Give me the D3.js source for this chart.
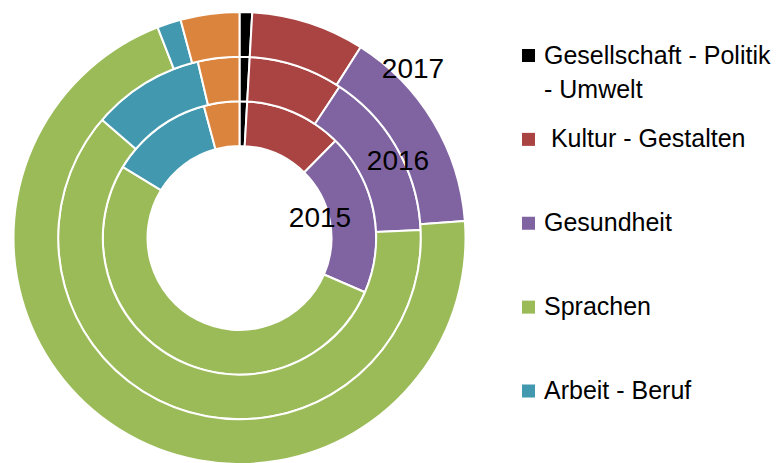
<!DOCTYPE html>
<html>
<head>
<meta charset="utf-8">
<script src="https://cdn.jsdelivr.net/npm/d3@7"></script>
<style>
  body { margin: 0; background: #fff; }
  text { font-family: "Liberation Sans", Arial, sans-serif; fill: #000; }
</style>
</head>
<body>
<svg id="chart"></svg>
<script>
/*
    DATA
    share of courses per category (percent), one array per year / ring
*/
var years = ["2015", "2016", "2017"];
var categories = ["Gesellschaft - Politik - Umwelt", "Kultur - Gestalten", "Gesundheit",
                  "Sprachen", "Arbeit - Beruf", "Sonstiges"];
var colors = ["#000000", "#A94442", "#8064A2", "#9BBB59", "#4198AF", "#DB843D"];

var values2015 = [0.9, 11.5, 19.1, 52.2, 12.1, 4.2];
var values2016 = [0.9, 8.4, 15.0, 62.0, 10.0, 3.7];
var values2017 = [0.9, 8.1, 14.8, 70.3, 1.7, 4.2];

// legend lines (only the first five categories show up in the legend)
var legendLines = [["Gesellschaft - Politik", "- Umwelt"], [" Kultur - Gestalten"], ["Gesundheit"],
                   ["Sprachen"], ["Arbeit - Beruf"]];

/*
    LAYOUT
*/
var width = 780, height = 463;
var cx = 239.5, cy = 238;
var holeR = 92, outerR = 226;

var svg = d3.select("#chart")
    .attr("width", width)
    .attr("height", height);

var g = svg.append("g")
    .attr("transform", "translate(" + cx + "," + cy + ")");

var rings = [values2015, values2016, values2017];

// ring index -> radius band
var radius = d3.scaleLinear()
    .domain([0, rings.length])
    .range([holeR, outerR]);

var pie = d3.pie().sort(null).value(function(d) { return d; });

rings.forEach(function(vals, i) {
  var arc = d3.arc()
      .innerRadius(radius(i))
      .outerRadius(radius(i + 1));

  g.append("g")
      .attr("class", "ring ring-" + years[i])
    .selectAll("path")
      .data(pie(vals))
      .enter().append("path")
      .attr("d", arc)
      .attr("fill", function(d, j) { return colors[j]; })
      .attr("stroke", "#fff")
      .attr("stroke-width", 2)
      .attr("stroke-linejoin", "round");
});

// year labels sit on the purple slice of each ring
var yearLabelPos = [[80.5, -11], [158.5, -68], [173.5, -160]];
g.selectAll(".year-label")
    .data(years)
    .enter().append("text")
    .attr("class", "year-label")
    .attr("x", function(d, i) { return yearLabelPos[i][0]; })
    .attr("y", function(d, i) { return yearLabelPos[i][1]; })
    .attr("text-anchor", "middle")
    .style("font-size", "28px")
    .text(function(d) { return d; });

/*
    LEGEND
*/
var legendY = d3.scalePoint()
    .domain(d3.range(legendLines.length))
    .range([55.5, 391]);

var legend = svg.append("g").attr("class", "legend");

var item = legend.selectAll(".item")
    .data(legendLines)
    .enter().append("g")
    .attr("class", "item")
    .attr("transform", function(d, i) { return "translate(522," + legendY(i) + ")"; });

item.append("rect")
    .attr("x", 0)
    .attr("y", -6.5)
    .attr("width", 13)
    .attr("height", 13)
    .attr("fill", function(d, i) { return colors[i]; });

item.append("text")
    .attr("x", 22)
    .attr("y", 8)
    .style("font-size", "25px")
    .style("white-space", "pre")
    .selectAll("tspan")
    .data(function(d) { return d; })
    .enter().append("tspan")
    .attr("x", 22)
    .attr("dy", function(d, k) { return k === 0 ? 0 : 34; })
    .text(function(d) { return d; });
</script>
</body>
</html>
